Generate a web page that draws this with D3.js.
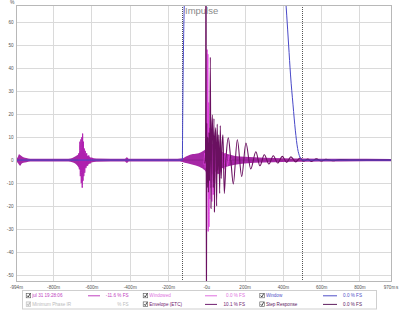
<!DOCTYPE html>
<html>
<head>
<meta charset="utf-8">
<script src="https://cdn.jsdelivr.net/npm/d3@7"></script>
<style>
  html, body { margin: 0; padding: 0; background: #fff; }
  svg { display: block; font-family: "Liberation Sans", Arial, sans-serif; }
</style>
</head>
<body>
<div id="chart"></div>
<script>
/* ---- data (time in ms, level in %) ---- */

const xTicks = [-994, -800, -600, -400, -200, 0, 200, 400, 600, 800, 970];
const xTickLabels = ["-994m", "-800m", "-600m", "-400m", "-200m", "-0u", "200m", "400m", "600m", "800m", "970m"];
const xGrid = [-800, -600, -400, -200, 0, 200, 400, 600, 800];
const yTicks = [60, 50, 40, 30, 20, 10, 0, -10, -20, -30, -40, -50];

/* window markers (dotted) */
const windowEdges = [-125, 500];

/* noise envelope of the measurement: [t, upper, lower] */
const noiseBand = [
  [-994, 0.6, -0.6], [-985, 1.2, -1.2], [-978, 2.5, -2.0], [-972, 2.2, -2.5],
  [-965, 1.8, -1.6], [-955, 1.2, -1.2], [-940, 0.9, -0.9], [-920, 0.6, -0.6],
  [-720, 0.6, -0.6], [-700, 0.9, -0.9], [-685, 1.5, -1.5], [-668, 2.5, -3],
  [-655, 4, -4.5], [-645, 4, -4.5], [-630, 2.5, -3], [-615, 1.6, -1.8],
  [-600, 1, -1.1], [-575, 0.7, -0.7], [-425, 0.6, -0.6], [-415, 1.2, -1.2],
  [-405, 0.6, -0.6], [-150, 0.6, -0.6], [-125, 0.8, -0.8], [-100, 1.8, -1.4],
  [-70, 2.6, -2], [-40, 3, -2.8], [-15, 4, -4], [-3, 5, -5], [5, 7.5, -8],
  [20, 6.5, -7], [40, 5, -5.5], [70, 3.5, -4], [100, 2.8, -3], [150, 1.8, -2],
  [200, 1.4, -1.5], [300, 1.0, -1.1], [400, 0.8, -0.8], [500, 0.7, -0.7],
  [700, 0.6, -0.6], [970, 0.5, -0.5]
];

/* early reflection burst around -650 ms */
const earlyBurst = [
  [-668, 0], [-665, 3], [-663, -4], [-660, 8], [-658, -7], [-655, 9], [-653, -10],
  [-650, 10], [-648, -12], [-646, 11.5], [-644, -9], [-642, 8], [-640, -7],
  [-637, 5], [-635, -5.5], [-632, 4], [-629, -3.5], [-625, 3], [-620, -2.5],
  [-614, 2], [-607, -1.5], [-598, 1], [-590, 0]
];

/* windowed impulse (bright) */
const windowed = [
  [-12, -2], [-8, 3], [-5, -3.5], [-2, 4], [1, -6], [4, 48], [6, -5], [8, 46],
  [10, -31], [12, 25], [14, -29], [16, 14], [18, -17], [20, 10], [23, -12],
  [26, 9], [29, -18], [32, 7], [36, -15], [40, 6], [44, -10], [48, 5], [53, -8],
  [58, 4.5], [64, -6], [70, 4], [77, -5], [84, 3.5], [92, -4], [100, 3],
  [110, -2.5], [120, 2], [130, 0]
];

/* impulse + step response ringing (dark) */
const impulse = [
  [-8, -1.5], [-4, 2.5], [-1.5, 120], [0.5, -80], [2.5, 16], [5, -12], [8, 10],
  [11, -14], [14, 12], [17, -9], [21, 44.7], [24.5, -21], [28, 12], [32, 19.6],
  [36, -12], [40, 18], [42.5, -22.5], [46, 10], [50, 14], [54, -20], [57, 15.6],
  [61, -6], [65, 11], [70, -14.5], [73, 15], [78, -8], [82, 6], [87, 11],
  [94, -14.5], [104, 2], [115, 9.7], [128, 0], [141, -10.4], [162, 8.8],
  [185, -7.1], [207, 7.4], [232, -3.9], [259, 3.6], [280, -2.5], [303, 2.3],
  [327, -1.7], [350, 1.9], [373, -1.3], [397, 1.6], [420, -1.0], [442, 1.4],
  [467, -0.8], [490, 0.9], [510, -0.5], [530, 0.4], [550, -0.6], [575, 0.5],
  [600, -0.4], [625, 0.3], [660, -0.3], [700, 0.2], [760, 0], [970, 0]
];

/* analysis window */
const windowCurve = [
  [-994, 0], [-125, 0], [-124, 10], [-122, 30], [-118, 55], [-113, 75],
  [-108, 90], [-100, 100], [350, 100], [370, 99], [390, 92], [410, 75],
  [420, 63], [430, 50], [440, 37], [453, 24], [465, 13], [477, 5],
  [489, 1.3], [500, 0], [970, 0]
];

/* legend rows */
const legendNames = ["jul 31 19:28:06", "Windowed", "Window", "Minimum Phase IR", "Envelope (ETC)", "Step Response"];
const legendValues = ["-11.6 % FS", "0.0 % FS", "0.0 % FS", "% FS", "10.1 % FS", "0.0 % FS"];
const legendColors = ["#c040c0", "#e070e0", "#5050c8", "#bbbbbb", "#702070", "#602060"];
const legendShowLine = [true, true, true, false, true, true];

/* ---- layout ---- */
const W = 400, H = 311;
const plot = {left: 16, right: 392, top: 5, bottom: 282};

const x = d3.scaleLinear()
  .domain([-994, 970])
  .range([plot.left, plot.right]);

const y = d3.scaleLinear()
  .domain([-53, 67.4])
  .range([plot.bottom, plot.top]);

const svg = d3.select("#chart").append("svg")
  .attr("width", W)
  .attr("height", H);

svg.append("defs").append("clipPath").attr("id", "plotClip")
  .append("rect")
    .attr("x", plot.left).attr("y", plot.top)
    .attr("width", plot.right - plot.left).attr("height", plot.bottom - plot.top);

/* grid */
const grid = svg.append("g").attr("stroke", "#dadada").attr("stroke-width", 1).attr("shape-rendering", "crispEdges");
grid.selectAll(".gx").data(xGrid).join("line")
  .attr("x1", d => Math.round(x(d)) + 0.5).attr("x2", d => Math.round(x(d)) + 0.5)
  .attr("y1", plot.top).attr("y2", plot.bottom);
grid.selectAll(".gy").data(yTicks).join("line")
  .attr("x1", plot.left).attr("x2", plot.right)
  .attr("y1", d => Math.round(y(d)) + 0.5).attr("y2", d => Math.round(y(d)) + 0.5);

/* title */
svg.append("text")
  .attr("x", 185).attr("y", 14)
  .attr("font-size", 9.5).attr("fill", "#8a8a8a")
  .text("Impulse");

/* window edge markers */
svg.append("g").selectAll("line").data(windowEdges).join("line")
  .attr("x1", d => Math.round(x(d)) + 0.5).attr("x2", d => Math.round(x(d)) + 0.5)
  .attr("y1", plot.top).attr("y2", plot.bottom)
  .attr("stroke", "#555").attr("stroke-width", 1).attr("stroke-dasharray", "1,1");

const traces = svg.append("g").attr("clip-path", "url(#plotClip)");

/* noise band */
traces.append("path")
  .datum(noiseBand)
  .attr("fill", "#a628a6")
  .attr("d", d3.area().x(d => x(d[0])).y0(d => y(d[2])).y1(d => y(d[1])).curve(d3.curveMonotoneX));

traces.append("path")
  .datum(noiseBand)
  .attr("fill", "none").attr("stroke", "#8a1f8a").attr("stroke-width", 0.8)
  .attr("d", d3.line().x(d => x(d[0])).y(() => y(0)));

const line = d3.line().x(d => x(d[0])).y(d => y(d[1])).curve(d3.curveMonotoneX);

traces.append("path").datum(earlyBurst)
  .attr("fill", "none").attr("stroke", "#b020b0").attr("stroke-width", 1)
  .attr("d", line);

traces.append("path").datum(windowed)
  .attr("fill", "none").attr("stroke", "#e040e0").attr("stroke-width", 1)
  .attr("d", line);

traces.append("path").datum(impulse)
  .attr("fill", "none").attr("stroke", "#6a1060").attr("stroke-width", 1.1)
  .attr("d", line);

traces.append("path").datum(windowCurve)
  .attr("fill", "none").attr("stroke", "#4848c8").attr("stroke-width", 1)
  .attr("d", d3.line().x(d => x(d[0])).y(d => y(d[1])).curve(d3.curveMonotoneX));

/* plot frame */
svg.append("rect")
  .attr("x", plot.left + 0.5).attr("y", plot.top + 0.5)
  .attr("width", plot.right - plot.left - 1).attr("height", plot.bottom - plot.top - 1)
  .attr("fill", "none").attr("stroke", "#b8b8b8").attr("shape-rendering", "crispEdges");

/* axis labels */
svg.append("g").selectAll("text").data(yTicks).join("text")
  .attr("x", 13.5).attr("y", d => y(d) + 1.6)
  .attr("text-anchor", "end").attr("font-size", 4.6).attr("fill", "#555")
  .text(d => d);

svg.append("text").attr("x", 10).attr("y", 4)
  .attr("font-size", 5).attr("fill", "#555").text("%");

svg.append("g").selectAll("text").data(xTicks).join("text")
  .attr("x", (d, i) => i === xTicks.length - 1 ? x(d) - 2.5 : x(d) + 0.5)
  .attr("y", 289)
  .attr("text-anchor", "middle").attr("font-size", 4.6).attr("fill", "#555")
  .text((d, i) => xTickLabels[i]);

svg.append("text").attr("x", 396).attr("y", 289)
  .attr("font-size", 4.6).attr("fill", "#555").text("s");

/* legend */
const legend = svg.append("g");
legend.append("rect")
  .attr("x", 22.5).attr("y", 290.5).attr("width", 354).attr("height", 18.5)
  .attr("fill", "#fff").attr("stroke", "#cfcfcf");

const colBox = [25.7, 142.7, 259.3];
const colLine = [[88, 100], [205, 217], [323, 337]];
const colValue = [128.5, 245, 362];
const rowY = [295.8, 304.4];

legendNames.forEach((name, i) => {
  const col = i % 3, row = Math.floor(i / 3);
  const cy = rowY[row];
  const disabled = (i === 3);
  const bx = colBox[col];

  legend.append("rect")
    .attr("x", bx + 0.5).attr("y", cy - 2.5).attr("width", 4.5).attr("height", 4.5)
    .attr("fill", disabled ? "#f0f0f0" : "#fff")
    .attr("stroke", disabled ? "#bbb" : "#555").attr("stroke-width", 0.6);
  legend.append("path")
    .attr("d", `M${bx + 1.4},${cy - 0.2} L${bx + 2.6},${cy + 1.2} L${bx + 4.4},${cy - 2.2}`)
    .attr("fill", "none").attr("stroke", disabled ? "#aaa" : "#222").attr("stroke-width", 0.8);

  legend.append("text")
    .attr("x", bx + 6.6).attr("y", cy + 1.6)
    .attr("font-size", 4.6).attr("fill", legendColors[i])
    .text(name);

  if (legendShowLine[i]) {
    legend.append("line")
      .attr("x1", colLine[col][0]).attr("x2", colLine[col][1])
      .attr("y1", cy).attr("y2", cy)
      .attr("stroke", legendColors[i]).attr("stroke-width", 1);
  }

  legend.append("text")
    .attr("x", colValue[col]).attr("y", cy + 1.6)
    .attr("text-anchor", "end").attr("font-size", 4.6).attr("fill", legendColors[i])
    .text(legendValues[i]);
});
</script>
</body>
</html>
